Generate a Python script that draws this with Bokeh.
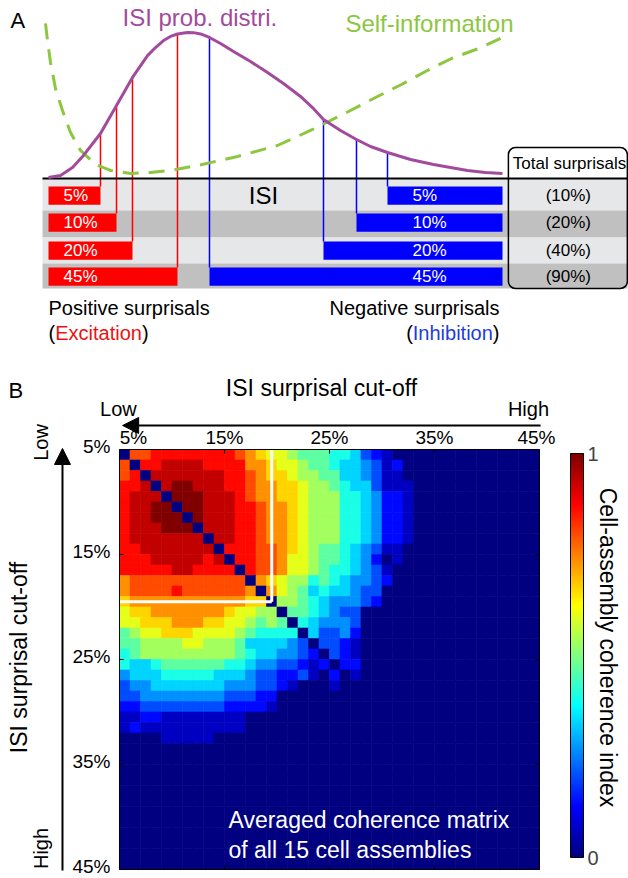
import numpy as np
from bokeh.plotting import figure
from bokeh.models import (Range1d, Arrow, NormalHead, ColorBar, LinearColorMapper,
                          FixedTicker, BoxAnnotation, ColumnDataSource)
from bokeh.layouts import column
from bokeh.core.properties import value
from bokeh.embed import file_html
from bokeh.resources import INLINE

FONT = "Liberation Sans"

# ---------------- Panel A data ----------------
# ISI probability distribution (x: ISI, arbitrary units 0..100; p: normalised density)
isi_x = [0, 2.64, 5.29, 7.71, 11.45, 14.98, 18.50, 21.81, 23.57, 25.33, 26.87, 28.41, 30.62,
         31.94, 33.48, 35.46, 37.89, 40.75, 44.49, 48.24, 51.76, 55.51, 58.15, 60.57, 64.32,
         67.84, 70.93, 74.67, 79.74, 84.80, 88.55, 92.29, 96.26, 100.0]
isi_p = [0.007, 0.021, 0.075, 0.158, 0.308, 0.500, 0.692, 0.842, 0.897, 0.945, 0.973, 0.990,
         1.000, 0.999, 0.990, 0.966, 0.925, 0.870, 0.801, 0.726, 0.651, 0.562, 0.486, 0.404,
         0.329, 0.267, 0.219, 0.178, 0.130, 0.096, 0.075, 0.055, 0.041, 0.034]
# Self-information curve (dashed green)
si_x = [-0.66, -0.22, 0.44, 1.54, 3.08, 4.85, 7.05, 10.35, 13.66, 18.06, 22.47, 26.87, 32.82,
        41.63, 50.44, 57.71, 66.08, 72.03, 77.75, 83.04, 88.77, 94.71, 99.56]
si_y = [1.062, 0.945, 0.795, 0.616, 0.466, 0.315, 0.192, 0.096, 0.055, 0.034, 0.041, 0.055,
        0.089, 0.151, 0.226, 0.329, 0.459, 0.555, 0.644, 0.733, 0.822, 0.890, 0.959]

surprisal_levels = ["5%", "10%", "20%", "45%"]
total_levels = ["(10%)", "(20%)", "(40%)", "(90%)"]
pos_cut = [11.45, 14.98, 18.50, 28.41]      # positive surprisal ISI cut-offs
pos_cut_p = [0.308, 0.500, 0.692, 0.990]    # curve height at those cut-offs
neg_cut = [74.67, 67.84, 60.57, 35.46]      # negative surprisal ISI cut-offs
neg_cut_p = [0.178, 0.267, 0.404, 0.966]
isi_start, isi_end = 0.0, 100.0

# ---------------- Panel B data ----------------
cutoff_ticks = [5, 15, 25, 35, 45]
cutoff_labels = ["5%", "15%", "25%", "35%", "45%"]
white_cut = 19.5
colorbar_ticks = [0, 1]
colorbar_labels = ["0", "1"]
# coherence matrix, 40 x 40 (1% cut-off steps), hex digit h -> value h/15
coh_rows = [
    "0CCDDDDDDDDCBA" "998777" "66532100" "000000000000",
    "C0DDEEEEDDDDBB" "A99877" "65543120" "000000000000",
    "CD0EEEEEEEDDCB" "AA9887" "75543110" "000000000000",
    "DDE0EFFEEEDDCB" "BAA988" "76553111" "000000000000",
    "DEEE0FFFEEEDCB" "BAA988" "86654221" "000000000000",
    "DEEFF0FFEEEDDC" "BBA988" "86654221" "000000000000",
    "DEEFFF0FEEEDDC" "BBA988" "86654221" "000000000000",
    "DEEEFFF0EEEDDC" "BBA988" "86654221" "000000000000",
    "DEEEEEEE0EEDDC" "BBA988" "86654221" "000000000000",
    "DDEEEEEEE0DDDC" "CBA987" "76543110" "000000000000",
    "DDDEEEEEDE0DDC" "CB9987" "76542010" "000000000000",
    "DDDDDEEDDDD0DC" "CB9987" "66543100" "000000000000",
    "BCCCCCCCCCCC0B" "A98867" "65443200" "000000000000",
    "BCCCCDCCCCCCB0" "B98756" "55433000" "000000000000",
    "ABBBBBBBBBBBAA" "088765" "44432000" "000000000000",
    "9AABBBBBBBA998" "807765" "43300000" "000000000000",
    "99AAABBBAA9987" "870654" "44300000" "000000000000",
    "7899AAA9999876" "666053" "34200000" "000000000000",
    "77888899888755" "554303" "32100000" "000000000000",
    "67888888888765" "544320" "32100000" "000000000000",
    "65567777776654" "433212" "02200000" "000000000000",
    "45556666655543" "322310" "20100000" "000000000000",
    "34455555554443" "321000" "10000000" "000000000000",
    "33444444443332" "200000" "00000000" "000000000000",
    "22333333332222" "100000" "00000000" "000000000000",
    "11221111111100" "000000" "00000000" "000000000000",
    "12111111111100" "000000" "00000000" "000000000000",
    "00001111100000" "000000" "00000000" "000000000000",
    "0000000000000000000000000000000000000000",
    "0000000000000000000000000000000000000000",
    "0000000000000000000000000000000000000000",
    "0000000000000000000000000000000000000000",
    "0000000000000000000000000000000000000000",
    "0000000000000000000000000000000000000000",
    "0000000000000000000000000000000000000000",
    "0000000000000000000000000000000000000000",
    "0000000000000000000000000000000000000000",
    "0000000000000000000000000000000000000000",
    "0000000000000000000000000000000000000000",
    "0000000000000000000000000000000000000000",
]

# ---------------- styles ----------------
PURPLE = "#a24b9c"
GREEN = "#8dc63f"
RED = "#ff0000"
BLUE = "#0000ff"
LIGHT = "#e6e7e8"
DARK = "#c0c0c0"
tf = value(FONT)


def jet_hex(t):
    r = min(max(1.5 - abs(4 * t - 3), 0), 1)
    g = min(max(1.5 - abs(4 * t - 2), 0), 1)
    b = min(max(1.5 - abs(4 * t - 1), 0), 1)
    return "#%02x%02x%02x" % (int(round(r * 255)), int(round(g * 255)), int(round(b * 255)))


JET = [jet_hex(i / 255) for i in range(256)]

# ======================= Panel A =======================
pA = figure(width=628, height=362, x_range=Range1d(-10.573, 127.753), y_range=Range1d(-1.2603, 1.2192),
            x_axis_location=None, y_axis_location=None, toolbar_location=None, output_backend="svg",
            min_border=0, title=None)
pA.outline_line_color = None
pA.grid.grid_line_color = None
pA.background_fill_color = "white"

# layout of the rows (positions, not data)
band_edges = [0.0, -0.219, -0.404, -0.582, -0.753]
band_colors = [LIGHT, DARK, LIGHT, DARK]
row_top = [-0.055, -0.240, -0.432, -0.610]
bar_h = 0.125
row_mid = [t - bar_h / 2 for t in row_top]
band_left, band_right = -1.32, 127.5

pA.quad(left=band_left, right=band_right, top=band_edges[:-1], bottom=band_edges[1:],
        fill_color=band_colors, line_color=None)

# bars
pA.quad(left=isi_start, right=pos_cut, top=row_top, bottom=[t - bar_h for t in row_top],
        fill_color=RED, line_color=None)
pA.quad(left=neg_cut, right=isi_end, top=row_top, bottom=[t - bar_h for t in row_top],
        fill_color=BLUE, line_color=None)

# vertical cut-off lines from the curve down to each bar
pA.segment(x0=pos_cut, y0=pos_cut_p, x1=pos_cut, y1=row_top, line_color=RED, line_width=1.5)
pA.segment(x0=neg_cut, y0=neg_cut_p, x1=neg_cut, y1=row_top, line_color=BLUE, line_width=1.5)

# baseline
pA.segment(x0=[band_left], y0=[0], x1=[band_right], y1=[0], line_color="black", line_width=2)

# curves
pA.line(si_x, si_y, line_color=GREEN, line_width=3, line_dash="16 10")
pA.line(isi_x, isi_p, line_color=PURPLE, line_width=3, line_join="round")

# total surprisals box
pA.add_layout(BoxAnnotation(left=101.3, right=127.5, top=0.212, bottom=-0.753, fill_alpha=0,
                            line_color="black", line_alpha=1.0, line_width=1.5, border_radius=7))


def tA(x, y, text, size, color="black", align="left"):
    pA.text(x=x, y=y, text=text, text_font=tf, text_font_size=value(size),
            text_color=color, text_align=align, text_baseline="middle")


tA([-8.37], [1.082], ["A"], "22px")
tA([16.3], [1.10], ["ISI prob. distri."], "24px", PURPLE)
tA([65.4], [1.062], ["Self-information"], "24px", GREEN)
tA([47.36], [row_mid[0]], ["ISI"], "24px", align="center")
tA([3.3] * 4, row_mid, surprisal_levels, "17px", "white")
tA([80.2] * 4, row_mid, surprisal_levels, "17px", "white")
tA([114.5] * 4, row_mid, total_levels, "17px", align="center")
tA([114.76], [0.103], ["Total surprisals"], "17px", align="center")
tA([0.0], [-0.884], ["Positive surprisals"], "20px")
tA([0.0, 20.57], [-1.055, -1.055], ["(", ")"], "20px")
tA([1.47], [-1.055], ["Excitation"], "20px", "#ee1111")
tA([99.34], [-0.884], ["Negative surprisals"], "20px", align="right")
tA([99.34, 80.24], [-1.055, -1.055], [")", "("], "20px", align="right")
tA([97.87], [-1.055], ["Inhibition"], "20px", "#1e3cdc", align="right")

# ======================= Panel B =======================
# frame covers the whole canvas; the heatmap occupies cut-off 5..45 on both axes
pB = figure(width=628, height=516, x_range=Range1d(-6.3333, 53.4762), y_range=Range1d(45.8571, -3.2857),
            x_axis_location=None, y_axis_location=None, toolbar_location=None, output_backend="svg",
            min_border=0, title=None)
pB.outline_line_color = None
pB.grid.grid_line_color = None
pB.background_fill_color = "white"

lo, hi = cutoff_ticks[0], cutoff_ticks[-1]
xs, ys, vs = [], [], []
for i, row in enumerate(coh_rows):
    for j, ch in enumerate(row):
        xs.append(lo + j + 0.5)
        ys.append(lo + i + 0.5)
        vs.append(int(ch, 16) / 15.0)
src = ColumnDataSource(dict(x=xs, y=ys, v=vs))
mapper = LinearColorMapper(palette=JET, low=0, high=1)
pB.rect(x="x", y="y", width=1, height=1, source=src,
        fill_color={"field": "v", "transform": mapper},
        line_color={"field": "v", "transform": mapper}, line_width=0.6)

# white guide lines
pB.segment(x0=[lo, white_cut], y0=[white_cut, lo], x1=[white_cut, white_cut], y1=[white_cut, white_cut],
           line_color="white", line_width=3)

# frame and inward ticks
pB.quad(left=[lo], right=[hi], top=[lo], bottom=[hi], fill_color=None, line_color="black", line_width=1)
inner = cutoff_ticks[1:-1]
tk = 0.4
pB.segment(x0=inner, y0=[lo] * 3, x1=inner, y1=[lo + tk] * 3, line_color="black", line_width=1)
pB.segment(x0=inner, y0=[hi] * 3, x1=inner, y1=[hi - tk] * 3, line_color="black", line_width=1)
pB.segment(x0=[lo] * 3, y0=inner, x1=[lo + tk] * 3, y1=inner, line_color="black", line_width=1)
pB.segment(x0=[hi] * 3, y0=inner, x1=[hi - tk] * 3, y1=inner, line_color="black", line_width=1)


def tB(x, y, text, size, color="black", align="center", angle=0.0, x_offset=0, y_offset=0):
    pB.text(x=x, y=y, text=text, text_font=tf, text_font_size=value(size), text_color=color,
            text_align=align, text_baseline="middle", angle=angle, x_offset=x_offset, y_offset=y_offset)


# tick labels
tB([lo - 0.86] * 5, cutoff_ticks, cutoff_labels, "19px", align="right", y_offset=-3)
tB(cutoff_ticks, [3.86] * 5, cutoff_labels, "19px", x_offset=[14, 0, 0, 0, -3])

tB([-5.57], [-0.62], ["B"], "22px", align="left")
tB([24.24], [-0.81], ["ISI surprisal cut-off"], "23px")
tB([4.90, 43.95], [1.19, 1.19], ["Low", "High"], "20px")
tB([-4.57], [24.81], ["ISI surprisal cut-off"], "23px", angle=np.pi / 2)
tB([-2.43, -2.43], [4.33, 43.0], ["Low", "High"], "20px", angle=np.pi / 2)
tB([15.38, 15.38], [40.24, 43.19], ["Averaged coherence matrix", "of all 15 cell assemblies"], "23px",
   color="white", align="left")
tB([51.57], [23.86], ["Cell-assembly coherence index"], "23px", angle=-np.pi / 2)

pB.add_layout(Arrow(end=NormalHead(size=16, fill_color="black", line_color="black"),
                    x_start=45.1, y_start=2.71, x_end=5.3, y_end=2.71, line_width=2, line_color="black"))
pB.add_layout(Arrow(end=NormalHead(size=16, fill_color="black", line_color="black"),
                    x_start=-0.43, y_start=45.1, x_end=-0.43, y_end=4.9, line_width=2, line_color="black"))

cb = ColorBar(color_mapper=mapper, location=(570, 21), width=13, height=404, padding=0, margin=0,
              ticker=FixedTicker(ticks=colorbar_ticks),
              major_label_overrides={t: l for t, l in zip(colorbar_ticks, colorbar_labels)},
              major_tick_line_color=None, bar_line_color="black",
              major_label_text_font_size="20px", major_label_text_font=FONT, label_standoff=4,
              background_fill_color=None, border_line_color=None)
pB.add_layout(cb, "center")

layout = column(pA, pB, spacing=0)
open("out.html", "w").write(file_html(layout, INLINE))
